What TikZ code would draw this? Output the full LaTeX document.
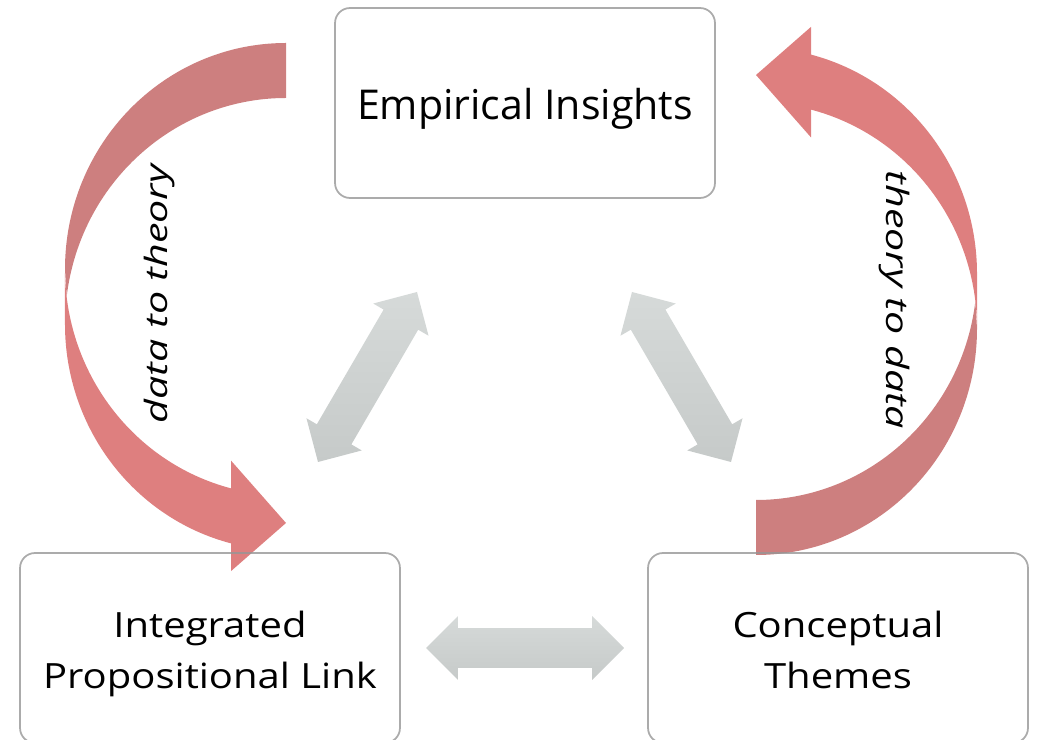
\documentclass[tikz,border=0pt]{standalone}
\usepackage{fontspec}
\setmainfont{Open Sans}
\newfontfamily\wideopen[FakeStretch=1.15]{Open Sans}
\newfontfamily\flowopen[FakeStretch=1.34]{Open Sans}
\usepackage{tikz}
\usetikzlibrary{calc}

\definecolor{redback}{RGB}{205,127,127}
\definecolor{redfront}{RGB}{222,127,127}
\definecolor{grayup}{RGB}{214,218,217}
\definecolor{graydown}{RGB}{198,202,201}
\definecolor{boxline}{RGB}{150,150,150}

\tikzset{
  stage/.style={draw=boxline,draw opacity=0.8,line width=1pt,rounded corners=0.3cm,
    minimum width=7.6cm,minimum height=3.8cm,align=center,inner sep=0pt},
  lowstage/.style={stage,font=\wideopen\fontsize{19.8}{29}\selectfont},
  flowtext/.style={font=\flowopen\fontsize{17.5}{20}\selectfont\itshape,inner sep=0pt,anchor=base},
  linkarrow/.style={top color=grayup,bottom color=graydown}
}

% two lines of box text, struts keep them in place
\newcommand{\twolines}[2]{\rule{0pt}{22pt}#1\\#2\rule[-5pt]{0pt}{5pt}}

% curved red arrow, pointing down-right
\newcommand{\redcurve}{%
  \fill[redback] (65,470.75) arc[start angle=180,end angle=90,x radius=221,y radius=226.25]
    -- (286,642) arc[start angle=90,end angle=173.02,x radius=221,y radius=226.25] -- cycle;
  \fill[redfront] (65,470.75) arc[start angle=180,end angle=255.59,x radius=221,y radius=226.25]
    -- (231,279.4) -- (286,217) -- (231,168.9)
    -- (231,196.62) arc[start angle=255.59,end angle=180,x radius=221,y radius=226.25] -- cycle;
}

% grey double arrow between two named points
\newcommand{\grayarrow}[2]{%
  \coordinate (b1) at ($(#1)!0.64cm!(#2)$);
  \coordinate (b2) at ($(#2)!0.64cm!(#1)$);
  \shade[linkarrow] (#1) -- ($(b1)!0.64cm!90:(#2)$) -- ($(b1)!0.4cm!90:(#2)$)
    -- ($(b2)!0.4cm!-90:(#1)$) -- ($(b2)!0.64cm!-90:(#1)$) -- (#2)
    -- ($(b2)!0.64cm!90:(#1)$) -- ($(b2)!0.4cm!90:(#1)$)
    -- ($(b1)!0.4cm!-90:(#2)$) -- ($(b1)!0.64cm!-90:(#2)$) -- cycle;
}

\begin{document}
\begin{tikzpicture}[line cap=round,line join=round,x=0.02cm,y=0.02cm]
        \useasboundingbox (0,0) rectangle (1038,740);
        \clip (0,0) rectangle (1038,740);
        % red loops
        \redcurve
        \begin{scope}[rotate around={180:(521,441)}]
            \redcurve
        \end{scope}
        \node[flowtext,rotate=90] (d2t) at (167,446) {data to theory};
        \node[flowtext,rotate=-90] (t2d) at (886,440) {theory to data};
        % boxes
        \node[stage,font=\fontsize{23.4}{28}\selectfont] (emp) at (525,637) {\rule[-6pt]{0pt}{30.7pt}Empirical Insights};
        \node[lowstage] (ipl) at (210,92) {\twolines{Integrated}{Propositional Link}};
        \node[lowstage] (ct) at (838,92) {\twolines{Conceptual}{Themes}};
        % grey links
        \coordinate (l1) at (318,278);
        \coordinate (l2) at (417,448);
        \coordinate (r1) at (632,448);
        \coordinate (r2) at (731,278);
        \coordinate (m1) at (426,92);
        \coordinate (m2) at (624,92);
        \grayarrow{l1}{l2}
        \grayarrow{r1}{r2}
        \grayarrow{m1}{m2}
\end{tikzpicture}
\end{document}
